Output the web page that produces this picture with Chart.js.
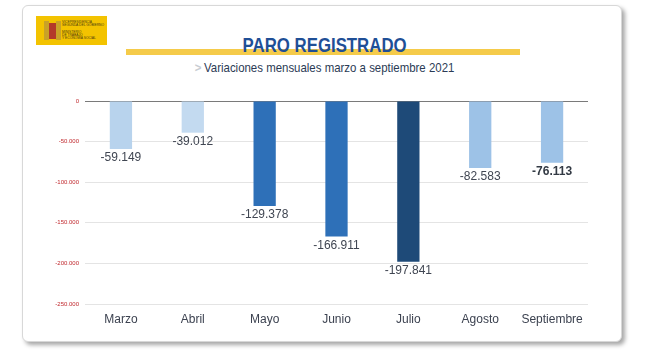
<!DOCTYPE html>
<html>
<head>
<meta charset="utf-8">
<script src="https://cdn.jsdelivr.net/npm/chart.js@4.4.1/dist/chart.umd.min.js"></script>
<style>
  body { margin: 0; width: 650px; height: 354px; background: #fff; position: relative; overflow: hidden; font-family: "Liberation Sans", Arial, sans-serif; }
  .card { position: absolute; left: 22px; top: 5px; width: 598px; height: 335px; border: 1px solid #d8d8d8; border-radius: 6px; box-shadow: 3px 3px 4px rgba(0,0,0,0.35); background: #fff; }
  .logo { position: absolute; left: 36px; top: 16px; width: 71px; height: 29px; background: #f3c300; overflow: hidden; }
  .crest { position: absolute; top: 5px; width: 5px; height: 19px; background: #b33a2a; }
  .logo-txt { position: absolute; left: 26px; font-size: 6px; line-height: 6px; color: #4a3a10; transform: scale(0.55); transform-origin: 0 0; white-space: nowrap; }
  .band { position: absolute; left: 126px; top: 49px; width: 394px; height: 6px; background: #f5cb4a; }
  .title { position: absolute; left: 0; width: 650px; top: 34px; text-align: center; }
  .title span { display: inline-block; font-weight: bold; font-size: 20px; color: #1f4f96; transform: scaleX(0.84); }
  .sub { position: absolute; left: 0; width: 650px; top: 58px; text-align: center; }
  .sub span { display: inline-block; font-size: 13px; color: #2b3b55; transform: scaleX(0.88); }
  .sub b { color: #c8ccd2; font-weight: bold; margin-right: 3px; }
  #wrap { position: absolute; left: 40px; top: 90px; width: 548px; height: 244px; }
</style>
</head>
<body>
<div class="card"></div>
<div class="logo">
  <div class="crest" style="left:8px;background:#c9a227"></div>
  <div class="crest" style="left:13px;width:7px;height:16px;top:7px"></div>
  <div class="crest" style="left:20px;background:#c9a227"></div>
  <div class="logo-txt" style="top:4px">VICEPRESIDENCIA<br>SEGUNDA DEL GOBIERNO</div>
  <div class="logo-txt" style="top:14px">MINISTERIO<br>DE TRABAJO<br>Y ECONOMÍA SOCIAL</div>
</div>
<div class="band"></div>
<div class="title"><span>PARO REGISTRADO</span></div>
<div class="sub"><span><b>&gt;</b>Variaciones mensuales marzo a septiembre 2021</span></div>
<div id="wrap"><canvas id="paroChart"></canvas></div>
<script>
// Datos: variación mensual del paro registrado 2021
const meses = ['Marzo', 'Abril', 'Mayo', 'Junio', 'Julio', 'Agosto', 'Septiembre'];
const variaciones = [-59149, -39012, -129378, -166911, -197841, -82583, -76113];
const coloresBarras = ['#b8d3ed', '#c3daf0', '#2e70b8', '#2e70b8', '#1e4a78', '#9dc2e7', '#9dc2e7'];
const ticksY = [0, -50000, -100000, -150000, -200000, -250000];

function formatoES(v) {
    let s = Math.abs(v).toString().replace(/\B(?=(\d{3})+(?!\d))/g, '.');
    return (v < 0 ? '-' : '') + s;
}

// etiquetas debajo de cada barra
const etiquetasBarras = {
    id: 'etiquetasBarras',
    afterDatasetsDraw(chart) {
        const ctx = chart.ctx;
        const meta = chart.getDatasetMeta(0);
        ctx.save();
        ctx.textAlign = 'center';
        ctx.textBaseline = 'middle';
        meta.data.forEach((bar, i) => {
            const ultimo = i === meta.data.length - 1;
            ctx.font = (ultimo ? 'bold ' : '') + '12px "Liberation Sans", Arial, sans-serif';
            ctx.fillStyle = ultimo ? '#333a44' : '#404652';
            ctx.fillText(formatoES(variaciones[i]), bar.x, bar.y + 9);
        });
        ctx.restore();
    }
};

var ctx = document.getElementById('paroChart').getContext('2d');
var myChart = new Chart(ctx, {
    type: 'bar',
    data: {
        labels: meses,
        datasets: [{
            data: variaciones,
            backgroundColor: coloresBarras,
            categoryPercentage: 1,
            barPercentage: 0.31
        }]
    },
    options: {
        responsive: true,
        maintainAspectRatio: false,
        animation: false,
        layout: { padding: { top: 11, right: 0, left: 0, bottom: 0 } },
        scales: {
            x: {
                grid: { display: false },
                border: { display: false },
                ticks: {
                    color: '#3c4250',
                    font: { size: 12, family: '"Liberation Sans", Arial, sans-serif' },
                    padding: 0
                },
                afterFit: (scale) => { scale.height = 30; }
            },
            y: {
                min: -250000,
                max: 0,
                afterBuildTicks: (scale) => { scale.ticks = ticksY.map(v => ({ value: v })); },
                grid: {
                    color: (c) => c.tick && c.tick.value === 0 ? '#7a7a7a' : '#e4e4e4',
                    drawTicks: false
                },
                border: { display: false },
                ticks: {
                    color: '#c0282d',
                    font: { size: 6, family: '"Liberation Sans", Arial, sans-serif' },
                    padding: 6,
                    callback: (v) => formatoES(v)
                },
                afterFit: (scale) => { scale.width = 45; }
            }
        },
        plugins: {
            legend: { display: false },
            tooltip: { enabled: false }
        }
    },
    plugins: [etiquetasBarras]
});
</script>
</body>
</html>
